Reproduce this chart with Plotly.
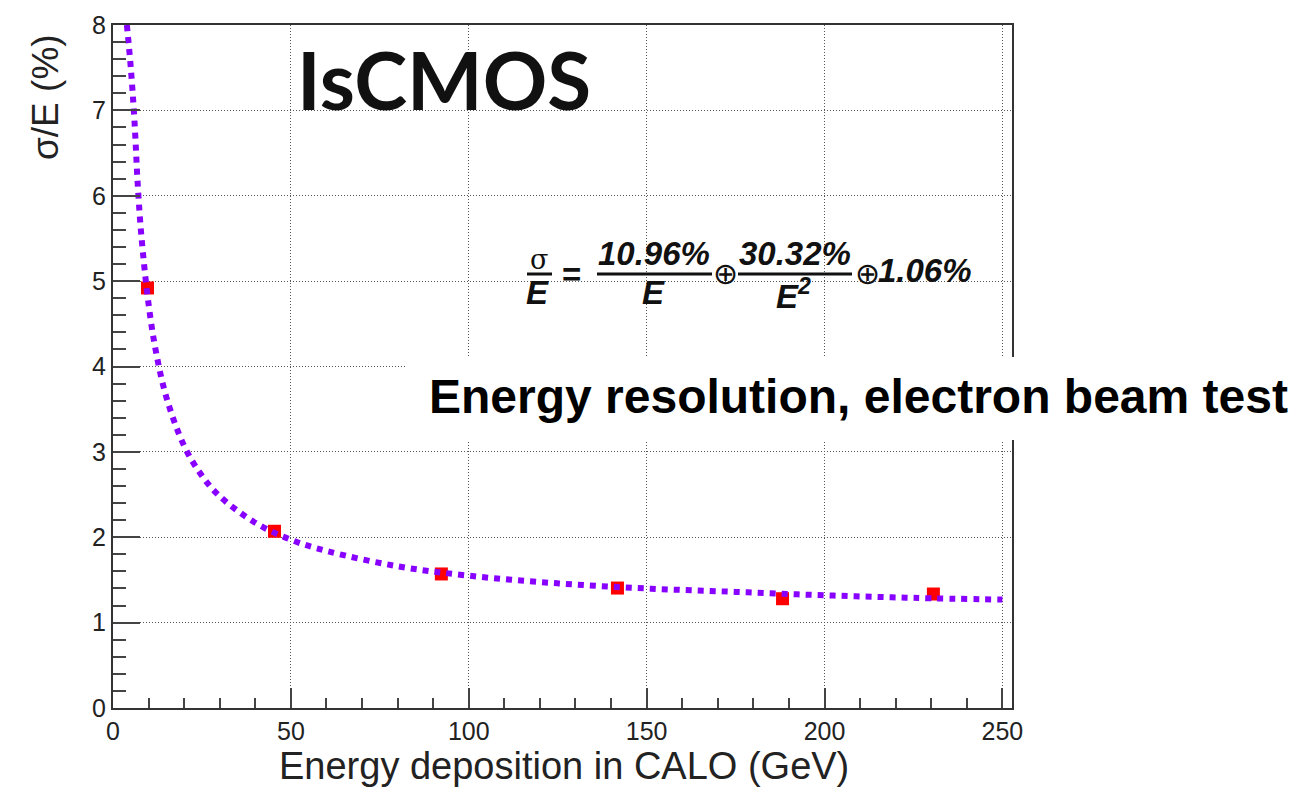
import plotly.graph_objects as go

# ---- data ----
energy_pts = [9.7, 45.4, 92.3, 141.8, 188.2, 230.6]
sigma_pts = [4.92, 2.07, 1.57, 1.405, 1.28, 1.335]

fit_energy = [3.9, 5.0, 6.0, 7.0, 8.0, 10, 12, 15, 20, 25, 30, 40, 50, 60, 80,
              100, 125, 150, 175, 200, 225, 250]
fit_sigma = [8.0, 7.5, 6.9, 6.1, 5.52, 4.73, 4.19, 3.64, 3.07, 2.72, 2.48, 2.17,
             1.97, 1.84, 1.66, 1.55, 1.46, 1.40, 1.36, 1.32, 1.29, 1.27]

x_ticks = [0, 50, 100, 150, 200, 250]
y_ticks = [0, 1, 2, 3, 4, 5, 6, 7, 8]

W, H = 1307, 800
L, R, T, B = 113, 295, 25, 92
PW, PH = W - L - R, H - T - B


def px(x):
    return (x - L) / PW


def py(y):
    return (H - B - y) / PH


fig = go.Figure()
fig.add_trace(go.Scatter(
    x=energy_pts, y=sigma_pts, mode="markers",
    marker=dict(symbol="square", size=13, color="#ff0000", line=dict(width=0)),
    showlegend=False))
fig.add_trace(go.Scatter(
    x=fit_energy, y=fit_sigma, mode="lines",
    line=dict(color="#8800ff", width=6, dash="6px,6px", shape="spline"),
    showlegend=False))

axis_common = dict(
    showline=True, linecolor="#333", linewidth=2, mirror=True,
    ticks="inside", tickwidth=2, tickcolor="#444",
    showgrid=True, gridcolor="#555", griddash="1px,2px", gridwidth=1,
    zeroline=False,
    tickfont=dict(family="Liberation Sans", size=25, color="#222"),
)

fig.update_xaxes(range=[0, 252.7], tickvals=x_ticks, ticklen=20,
                 minor=dict(ticks="inside", ticklen=10, dtick=10, tick0=0,
                            tickcolor="#444", tickwidth=2, showgrid=False),
                 **axis_common)
fig.update_yaxes(range=[0, 8], tickvals=y_ticks, ticklen=27,
                 minor=dict(ticks="inside", ticklen=13, dtick=0.2, tick0=0,
                            tickcolor="#444", tickwidth=2, showgrid=False),
                 **axis_common)

ann = []
# titles
ann.append(dict(x=px(564), y=py(766), text="Energy deposition in CALO (GeV)",
                font=dict(family="Liberation Sans", size=38, color="#222")))
ann.append(dict(x=px(45), y=py(97), text="σ/E (%)", textangle=-90,
                font=dict(family="Liberation Sans", size=37, color="#222")))
ann.append(dict(x=px(444), y=py(79), text="<b>IsCMOS</b>",
                font=dict(family="Lato", size=80, color="#111")))
ann.append(dict(x=px(858), y=py(396), text="<b>Energy resolution, electron beam test</b>",
                font=dict(family="Liberation Sans", size=48, color="#000")))

ffont = dict(family="Liberation Sans", size=33, color="#111")
ann.append(dict(x=px(539), y=py(259), text="σ",
                font=dict(family="DejaVu Serif", size=27, color="#111")))
ann.append(dict(x=px(537), y=py(292), text="<b><i>E</i></b>", font=ffont))
ann.append(dict(x=px(571), y=py(274), text="<b>=</b>", font=ffont))
ann.append(dict(x=px(654), y=py(253), text="<b><i>10.96%</i></b>", font=ffont))
ann.append(dict(x=px(653), y=py(292), text="<b><i>E</i></b>", font=ffont))
ann.append(dict(x=px(725), y=py(273), text="⊕",
                font=dict(family="DejaVu Sans", size=30, color="#111")))
ann.append(dict(x=px(795), y=py(253), text="<b><i>30.32%</i></b>", font=ffont))
ann.append(dict(x=px(793), y=py(294), text="<b><i>E<sup>2</sup></i></b>", font=ffont))
ann.append(dict(x=px(867), y=py(273), text="⊕",
                font=dict(family="DejaVu Sans", size=30, color="#111")))
ann.append(dict(x=px(925), y=py(270), text="<b><i>1.06%</i></b>", font=ffont))

for a in ann:
    a.update(xref="paper", yref="paper", showarrow=False,
             xanchor="center", yanchor="middle")

shapes = [
    # white box behind the caption
    dict(type="rect", xref="paper", yref="paper", x0=px(405), x1=px(1307),
         y0=py(440), y1=py(357), fillcolor="white", line=dict(width=0),
         layer="above"),
    dict(type="line", xref="paper", yref="paper", x0=px(527), x1=px(552),
         y0=py(274), y1=py(274), line=dict(color="#111", width=3)),
    dict(type="line", xref="paper", yref="paper", x0=px(597), x1=px(712),
         y0=py(274), y1=py(274), line=dict(color="#111", width=3)),
    dict(type="line", xref="paper", yref="paper", x0=px(738), x1=px(852),
         y0=py(274), y1=py(274), line=dict(color="#111", width=3)),
]

fig.update_layout(
    width=W, height=H, autosize=False,
    margin=dict(l=L, r=R, t=T, b=B, pad=0),
    plot_bgcolor="white", paper_bgcolor="white",
    annotations=ann, shapes=shapes, showlegend=False,
)

fig.write_html("out.html")
